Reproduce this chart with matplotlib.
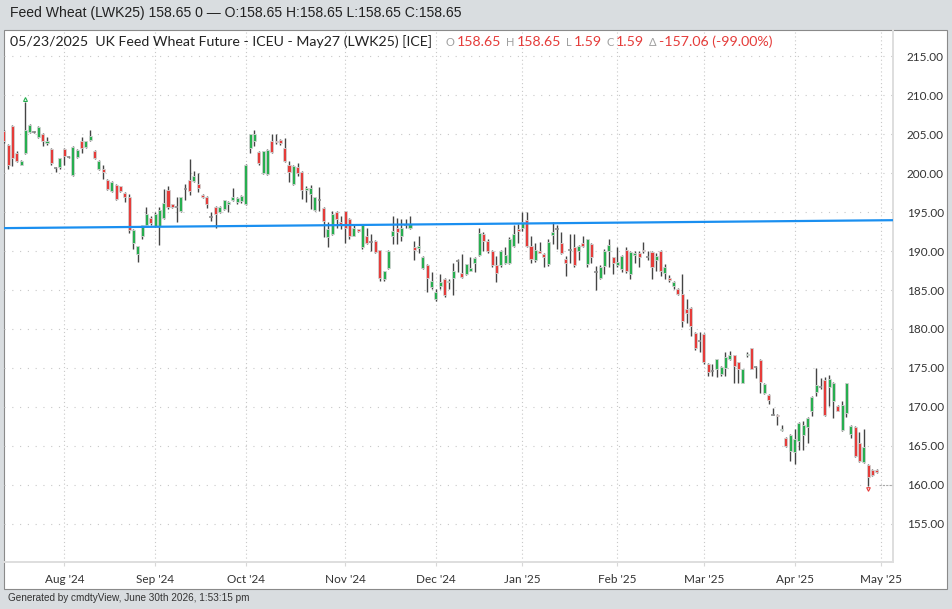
import numpy as np
import pandas as pd
import matplotlib
matplotlib.use('Agg')
import matplotlib.pyplot as plt
from matplotlib.patches import Rectangle

# daily OHLC, UK Feed Wheat May25
opens = [205.4, 203.6, 206.1, 202.6, 201.1, 202.6, 205.3, 205.3, 204.6, 205.1,
         203.9, 203.1, 200.7, 200.8, 203.1, 202.1, 199.8, 202.1, 204.1, 203.4,
         204.3, 202.9, 200.5, 200.6, 199.1, 197.7, 198.5, 198.3, 197.5, 197.0,
         191.1, 189.6, 191.9, 193.3, 194.3, 193.2, 193.2, 194.2, 197.8, 196.0,
         195.6, 195.2, 198.0, 199.1, 199.0, 198.6, 197.2, 197.0, 194.4, 195.7,
         195.0, 195.4, 196.0, 196.5, 196.3, 196.4, 196.0, 203.3, 204.2, 202.7,
         200.0, 199.9, 204.1, 204.2, 204.3, 203.2, 201.1, 198.6, 200.8, 200.1,
         197.9, 197.3, 195.3, 196.6, 195.5, 191.8, 192.2, 195.0, 193.7, 195.1,
         194.1, 192.0, 192.8, 190.5, 191.9, 191.2, 191.3, 190.1, 186.4, 187.8,
         191.9, 193.0, 192.0, 193.3, 193.0, 190.5, 190.4, 187.8, 188.2, 185.4,
         183.9, 185.5, 186.4, 186.0, 186.5, 188.7, 187.2, 187.0, 187.5, 188.5,
         189.5, 192.2, 191.3, 190.0, 188.2, 188.2, 188.5, 188.5, 190.6, 192.8,
         193.0, 194.0, 190.6, 188.9, 190.0, 189.6, 188.4, 192.1, 192.9, 191.1,
         189.0, 190.1, 190.5, 190.0, 191.1, 188.3, 190.9, 187.3, 186.5, 188.1,
         190.0, 189.2, 188.2, 187.7, 190.2, 187.0, 189.5, 189.7, 190.2, 189.3,
         189.9, 188.8, 190.0, 187.2, 186.6, 185.5, 185.1, 184.5, 182.5, 182.7,
         179.5, 178.5, 179.4, 175.5, 174.6, 174.9, 174.2, 175.0, 176.1, 176.6,
         175.7, 173.1, 176.6, 177.5, 175.1, 176.0, 171.8, 171.5, 169.0, 169.0,
         167.0, 166.0, 164.3, 164.2, 165.6, 166.4, 167.4, 169.5, 171.9, 172.5,
         173.5, 172.6, 170.8, 170.1, 167.0, 169.2, 166.5, 167.4, 165.4, 162.9,
         162.5, 161.9, 161.9]
highs = [205.6, 203.8, 206.2, 202.8, 201.7, 209.1, 206.3, 205.4, 206.1, 205.2,
         204.6, 203.2, 200.8, 202.0, 203.2, 202.2, 203.5, 203.1, 204.6, 204.2,
         205.6, 203.0, 201.7, 201.1, 199.2, 199.0, 198.6, 198.4, 197.6, 197.3,
         192.8, 190.7, 193.4, 195.6, 194.5, 195.0, 195.7, 198.0, 198.4, 196.1,
         197.0, 197.0, 198.6, 201.8, 200.3, 200.0, 197.3, 197.1, 195.0, 195.8,
         195.8, 196.6, 196.4, 198.1, 196.9, 197.2, 201.2, 205.1, 205.5, 202.9,
         202.9, 203.1, 205.1, 205.1, 204.4, 204.5, 201.6, 201.0, 201.3, 200.3,
         198.4, 198.5, 197.0, 198.2, 195.6, 193.7, 195.1, 195.2, 194.5, 195.2,
         194.2, 193.3, 192.9, 193.4, 193.0, 192.2, 191.4, 190.2, 187.5, 190.2,
         194.5, 194.3, 194.1, 194.1, 194.5, 191.3, 191.9, 189.4, 188.3, 187.3,
         185.1, 187.0, 186.5, 186.4, 188.5, 189.0, 189.6, 188.4, 189.2, 189.2,
         193.0, 192.5, 191.6, 190.1, 189.4, 190.1, 190.5, 191.8, 193.3, 193.5,
         195.0, 195.0, 192.0, 191.1, 191.2, 189.8, 191.5, 193.8, 193.3, 192.4,
         189.4, 192.2, 192.2, 190.8, 192.0, 191.6, 191.0, 188.1, 188.2, 190.3,
         191.5, 189.3, 190.5, 189.5, 190.5, 190.0, 190.0, 190.0, 191.2, 190.0,
         190.0, 189.7, 190.1, 188.3, 186.9, 186.2, 185.3, 187.1, 183.8, 182.8,
         179.6, 179.6, 179.5, 175.6, 175.5, 176.2, 175.2, 177.0, 177.2, 176.7,
         175.8, 174.9, 177.0, 177.6, 175.2, 176.1, 173.0, 171.6, 169.9, 169.1,
         167.6, 166.1, 166.5, 167.1, 168.0, 168.2, 168.7, 171.4, 175.0, 173.7,
         173.8, 174.1, 173.2, 170.2, 170.7, 173.1, 167.7, 167.5, 166.8, 167.1,
         162.6, 162.0, 162.0]
lows = [203.9, 200.6, 200.9, 201.4, 201.0, 202.5, 205.2, 205.2, 204.5, 203.5,
        203.6, 201.1, 200.1, 200.5, 201.1, 202.0, 199.6, 202.0, 202.6, 203.2,
        204.2, 201.8, 200.4, 199.2, 197.9, 197.6, 196.6, 197.6, 196.3, 192.3,
        190.3, 188.6, 191.5, 193.2, 193.3, 193.1, 190.8, 194.1, 195.4, 195.5,
        193.7, 195.0, 196.6, 197.2, 198.9, 197.6, 196.8, 195.5, 193.9, 193.0,
        194.9, 195.3, 195.0, 196.4, 196.1, 196.2, 195.9, 202.6, 203.5, 201.1,
        199.9, 199.8, 202.6, 203.8, 203.6, 201.5, 198.9, 198.5, 199.6, 196.7,
        196.3, 195.4, 195.2, 195.2, 191.8, 190.5, 192.1, 193.0, 192.8, 191.1,
        191.5, 191.9, 192.5, 190.3, 190.9, 190.0, 189.8, 186.1, 186.1, 187.7,
        190.9, 190.9, 191.3, 193.0, 192.8, 188.8, 189.8, 187.7, 184.8, 185.1,
        183.6, 185.1, 184.1, 185.1, 184.3, 187.3, 186.6, 186.9, 187.4, 187.3,
        189.4, 190.0, 189.7, 188.0, 186.0, 188.0, 188.3, 188.3, 190.5, 191.1,
        192.6, 190.5, 188.5, 188.6, 189.7, 188.0, 188.1, 190.9, 190.3, 189.6,
        186.8, 188.5, 188.0, 188.9, 190.5, 188.0, 188.5, 185.0, 186.4, 187.1,
        188.0, 187.0, 188.0, 187.3, 187.2, 186.4, 188.5, 188.0, 189.8, 188.9,
        186.4, 187.4, 186.8, 186.4, 186.0, 185.1, 184.3, 180.2, 180.8, 179.1,
        177.3, 177.1, 175.5, 173.9, 173.9, 173.8, 174.0, 173.9, 176.0, 173.1,
        173.1, 173.0, 176.4, 174.8, 173.7, 171.8, 171.7, 170.3, 168.9, 167.7,
        166.9, 164.8, 163.0, 162.6, 164.5, 164.4, 165.4, 168.8, 171.4, 172.3,
        168.8, 170.1, 168.6, 169.4, 166.9, 168.7, 166.0, 163.6, 162.9, 162.8,
        159.8, 161.1, 161.5]
closes = [204.1, 201.1, 201.9, 201.6, 201.6, 205.6, 206.2, 205.3, 206.0, 204.1,
          204.2, 201.3, 200.7, 201.9, 202.2, 202.1, 203.4, 203.0, 203.3, 204.1,
          204.8, 201.9, 201.6, 200.1, 198.0, 198.9, 196.7, 197.7, 196.9, 192.7,
          192.7, 190.6, 193.3, 194.7, 193.6, 194.8, 195.3, 196.2, 195.6, 195.7,
          195.6, 196.9, 198.0, 197.7, 199.6, 198.1, 196.9, 196.0, 194.4, 194.8,
          195.7, 196.5, 196.3, 197.0, 196.8, 197.1, 201.1, 205.0, 205.1, 201.3,
          202.8, 203.0, 202.7, 204.0, 203.9, 201.6, 200.2, 200.9, 200.0, 197.9,
          198.1, 198.1, 196.9, 196.6, 193.9, 192.8, 194.8, 194.1, 193.3, 193.0,
          191.9, 193.0, 192.6, 193.3, 191.1, 191.2, 189.9, 186.5, 187.4, 190.0,
          192.6, 192.4, 193.0, 193.3, 193.5, 190.2, 190.6, 189.3, 186.5, 186.1,
          184.7, 186.0, 184.3, 186.2, 187.5, 188.7, 186.7, 188.3, 187.8, 189.1,
          192.3, 191.3, 190.0, 188.2, 187.2, 190.0, 189.5, 191.5, 192.2, 192.6,
          193.8, 190.7, 189.0, 190.1, 189.8, 189.2, 191.2, 192.4, 192.9, 189.7,
          188.5, 190.1, 188.2, 190.7, 190.7, 191.5, 189.2, 187.3, 188.0, 190.0,
          190.8, 188.5, 188.6, 189.4, 187.5, 189.9, 189.7, 189.3, 190.0, 189.3,
          187.9, 189.4, 187.5, 188.0, 186.3, 186.0, 184.5, 181.0, 182.0, 180.4,
          177.5, 178.5, 175.7, 174.5, 174.6, 176.1, 175.1, 176.4, 176.7, 175.3,
          174.9, 174.8, 176.8, 174.9, 175.1, 173.2, 172.9, 170.9, 169.0, 168.8,
          167.2, 164.9, 166.4, 165.9, 167.9, 167.6, 168.6, 171.3, 172.8, 172.5,
          168.9, 173.6, 173.1, 169.5, 170.2, 173.0, 167.5, 163.7, 163.0, 164.8,
          161.0, 161.2, 161.6]

# blue trend line, value at first and last candle
trend_vals = [192.95, 193.95]
last_price_line = 160.0

header = "Feed Wheat (LWK25) 158.65 0 \u2014 O:158.65 H:158.65 L:158.65 C:158.65"
title = "05/23/2025  UK Feed Wheat Future - ICEU - May27 (LWK25) [ICE]"
stats = [("O", "158.65"), ("H", "158.65"), ("L", "1.59"), ("C", "1.59"),
         ("\u0394", "-157.06 (-99.00%)")]
footer = "Generated by cmdtyView, June 30th 2026, 1:53:15 pm"

holidays = pd.to_datetime(['2024-08-26', '2024-12-25', '2024-12-26', '2025-01-01',
                           '2025-04-18', '2025-04-21', '2025-05-05'])
days = pd.bdate_range('2024-07-12', '2025-05-09')
days = days[~days.isin(holidays)]

n = len(opens)
x = np.arange(n)
o = np.array(opens); h = np.array(highs); l = np.array(lows); c = np.array(closes)

GREEN = '#27ae4f'
RED = '#e53c3a'
GRAY = '#8c8c8c'
W, H = 952, 609

fig = plt.figure(figsize=(W / 100, H / 100), dpi=100)
fig.patch.set_facecolor('#d9dde0')
fig.add_artist(Rectangle((4 / W, 1 - 589 / H), 943 / W, 559 / H, transform=fig.transFigure,
                         facecolor='white', edgecolor='#8a8a8a', lw=0.8, zorder=-1))

ax = fig.add_axes([4 / W, 1 - 561.7 / H, 888.7 / W, 531.7 / H])
ax.set_facecolor('none')

# month ticks
month_idx, month_lab = [], []
for i in range(1, len(days)):
    if days[i].month != days[i - 1].month:
        month_idx.append(i)
        month_lab.append(days[i].strftime("%b '%y"))

for m in month_idx:
    ax.axvline(m, color='#c8c8c8', lw=0.8, ls=(0, (1, 2.5)), zorder=0)
yt = np.arange(155, 216, 5)
for v in yt:
    ax.axhline(v, color='#c8c8c8', lw=0.8, ls=(0, (1, 6)), zorder=0)

# candles
up = c > o
dn = c < o
flat = c == o
colors = np.where(up, GREEN, np.where(dn, RED, GRAY))
ax.vlines(x, l, h, color='#444444', lw=1.0, zorder=2)
bottom = np.minimum(o, c)
height = np.abs(c - o)
ax.bar(x[~flat], height[~flat], bottom=bottom[~flat], width=0.7,
       color=colors[~flat], edgecolor='#d2d2d2', lw=0.6, zorder=3)
ax.hlines(o[flat], x[flat] - 0.4, x[flat] + 0.4, color=GRAY, lw=1.2, zorder=3)

# highest high / lowest low markers
ih = int(np.argmax(h)); il = int(np.argmin(l))
ax.plot(ih, h[ih] + 0.45, marker='^', ms=2.8, mfc='none', mec=GREEN, mew=0.8, zorder=4)
ax.plot(il, l[il] - 0.35, marker='v', ms=2.6, mfc='none', mec=RED, mew=0.8, zorder=4)

# trend line
ax.axline((0, trend_vals[0]), (n - 1, trend_vals[1]), color='#1a8ff0', lw=1.6, zorder=5)
ax.hlines(last_price_line, n - 0.4, n + 2.7, color='#a8a8a8', lw=0.8, ls=(0, (2, 1)), zorder=4)

ax.set_xlim(0.05, 205.7)
ax.set_ylim(150.1, 218.4)

ax.set_xticks(month_idx)
ax.set_xticklabels(month_lab)
ax.yaxis.tick_right()
ax.set_yticks(yt)
ax.set_yticklabels([f'{v:.2f}' for v in yt])
for lab in ax.get_xticklabels() + ax.get_yticklabels():
    lab.set_family('Lato')
    lab.set_fontsize(8.5)
    lab.set_color('#333333')
ax.tick_params(axis='x', length=3, color='#d8d8d8', pad=6)
ax.tick_params(axis='y', length=0, pad=10)
for s in ['top', 'left']:
    ax.spines[s].set_visible(False)
for s in ['right', 'bottom']:
    ax.spines[s].set_color('#dedede')
    ax.spines[s].set_linewidth(1.4)

# texts
fig.text(10 / W, 1 - 13 / H, header, family='Liberation Sans', fontsize=10.1,
         color='#222222', va='center')
fig.text(10 / W, 1 - 42 / H, title, family='Lato', fontsize=10.2, color='#222222', va='center')

# stats row laid out one piece after another
fig.canvas.draw()
renderer = fig.canvas.get_renderer()
px = 446
for k, v in stats:
    t = fig.text(px / W, 1 - 42 / H, k, family=['Lato', 'DejaVu Sans'], fontsize=8,
                 color='#a0a0a0', va='center')
    px += t.get_window_extent(renderer).width + 2
    t = fig.text(px / W, 1 - 42 / H, v, family='Lato', fontsize=10.2, color=RED, va='center')
    px += t.get_window_extent(renderer).width + 5

fig.text(8 / W, 1 - 598 / H, footer, family='Liberation Sans', fontsize=7.2,
         color='#333333', va='center')

fig.savefig('out.png', dpi=100, facecolor=fig.get_facecolor())
